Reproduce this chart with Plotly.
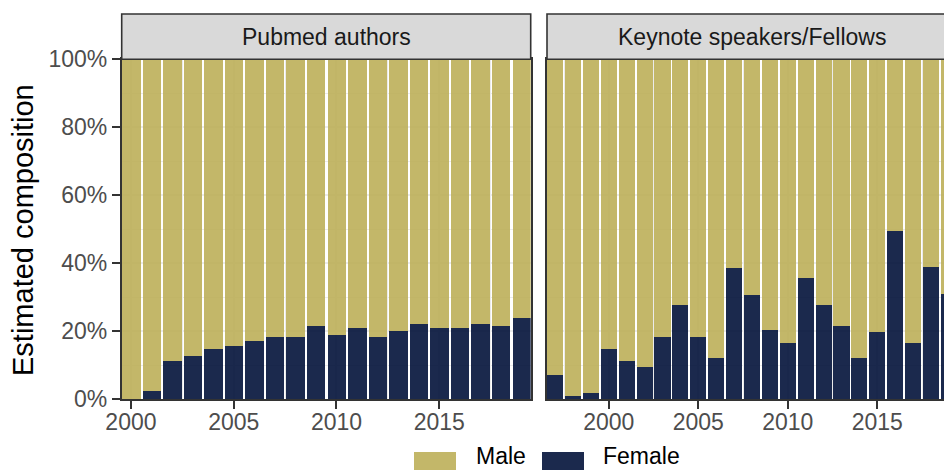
import plotly.graph_objects as go

# ---- data ----
years_pubmed = list(range(2000, 2020))
female_pubmed = [0.000, 0.024, 0.110, 0.127, 0.147, 0.155, 0.169, 0.183, 0.181, 0.213,
                 0.188, 0.209, 0.183, 0.198, 0.219, 0.209, 0.209, 0.219, 0.215, 0.239]
male_pubmed = [1 - v for v in female_pubmed]

years_keynote = list(range(1997, 2020))
female_keynote = [0.069, 0.009, 0.017, 0.147, 0.110, 0.092, 0.183, 0.277, 0.181, 0.119,
                  0.386, 0.304, 0.202, 0.165, 0.354, 0.275, 0.215, 0.119, 0.197, 0.494,
                  0.165, 0.388, 0.308]
male_keynote = [1 - v for v in female_keynote]

panel_titles = ["Pubmed authors", "Keynote speakers/Fellows"]
series_names = ["Male", "Female"]
x_tickvals = [2000, 2005, 2010, 2015]
y_tickvals = [0, 0.2, 0.4, 0.6, 0.8, 1.0]
y_ticktext = ["0%", "20%", "40%", "60%", "80%", "100%"]
y_title = "Estimated composition"

# ---- style ----
W, H = 944, 470
MALE = "rgba(189,175,89,0.9)"
FEMALE = "rgba(2,18,58,0.9)"
FONT = "Liberation Sans, Arial, Helvetica, sans-serif"
TICK_COLOR = "#4D4D4D"
BORDER = "#333333"
GRID = "#EBEBEB"

def px_x(p):
    return p / W

def px_y(p):
    return (H - p) / H

left_dom = [px_x(121.7), px_x(530.7)]
right_dom = [px_x(547.0), 1.0]
y_dom = [px_y(399.0), px_y(59.3)]

fig = go.Figure()

fig.add_trace(go.Bar(x=years_pubmed, y=female_pubmed, name="Female", marker_color=FEMALE,
                     marker_line_width=0, width=0.9, xaxis="x", yaxis="y", showlegend=False))
fig.add_trace(go.Bar(x=years_pubmed, y=male_pubmed, name="Male", marker_color=MALE,
                     marker_line_width=0, width=0.9, xaxis="x", yaxis="y", showlegend=False))
fig.add_trace(go.Bar(x=years_keynote, y=female_keynote, name="Female", marker_color=FEMALE,
                     marker_line_width=0, width=0.9, xaxis="x2", yaxis="y2", showlegend=False))
fig.add_trace(go.Bar(x=years_keynote, y=male_keynote, name="Male", marker_color=MALE,
                     marker_line_width=0, width=0.9, xaxis="x2", yaxis="y2", showlegend=False))

xcommon = dict(
    tickvals=x_tickvals, ticks="outside", ticklen=8, tickwidth=2, tickcolor=BORDER,
    tickfont=dict(family=FONT, size=23, color=TICK_COLOR), ticklabelstandoff=-6,
    showline=True, linecolor=BORDER, linewidth=1.6, mirror=True,
    showgrid=True, gridcolor=GRID, gridwidth=1.5,
    minor=dict(dtick=2.5, tick0=2002.5, showgrid=True, gridcolor=GRID, gridwidth=0.8, ticks=""),
    zeroline=False, automargin=False,
)
ycommon = dict(
    range=[0, 1], showline=True, linecolor=BORDER, linewidth=1.6, mirror=True,
    showgrid=True, gridcolor=GRID, gridwidth=1.5,
    minor=dict(dtick=0.1, showgrid=True, gridcolor=GRID, gridwidth=0.8, ticks=""),
    zeroline=False, automargin=False, domain=y_dom,
)

fig.update_layout(
    width=W, height=H,
    margin=dict(l=0, r=0, t=0, b=0, autoexpand=False),
    paper_bgcolor="white", plot_bgcolor="white",
    barmode="stack", bargap=0,
    showlegend=False,
    xaxis=dict(domain=left_dom, range=[1999.55, 2019.45], **xcommon),
    xaxis2=dict(domain=right_dom, range=[1996.55, 1996.55 + (944 - 547) / 17.9], **xcommon),
    yaxis=dict(anchor="x", tickvals=y_tickvals, ticktext=y_ticktext, ticks="outside",
               ticklen=8, tickwidth=2, tickcolor=BORDER,
               tickfont=dict(family=FONT, size=23, color=TICK_COLOR), **ycommon),
    yaxis2=dict(anchor="x2", tickvals=y_tickvals, showticklabels=False, ticks="", **ycommon),
)

# facet strips
strip_top = px_y(14)
shapes = []
for dom in (left_dom, [right_dom[0], px_x(957)]):
    shapes.append(dict(type="rect", xref="paper", yref="paper", x0=dom[0], x1=dom[1],
                       y0=y_dom[1], y1=strip_top, fillcolor="#D9D9D9",
                       line=dict(color=BORDER, width=1.6), layer="above"))

annotations = []
strip_centers = [(121.7 + 530.7) / 2, (547 + 957) / 2]
for title, cx in zip(panel_titles, strip_centers):
    annotations.append(dict(text=title, xref="paper", yref="paper", x=px_x(cx), y=px_y(37),
                            xanchor="center", yanchor="middle", showarrow=False,
                            font=dict(family=FONT, size=23, color="#1A1A1A")))

annotations.append(dict(text=y_title, xref="paper", yref="paper", x=px_x(23), y=px_y(230),
                        xanchor="center", yanchor="middle", textangle=-90, showarrow=False,
                        font=dict(family=FONT, size=29, color="black")))

# legend (bottom)
legend_items = [(series_names[0], MALE, 414, 474), (series_names[1], FEMALE, 542, 601)]
for name, col, sx, tx in legend_items:
    shapes.append(dict(type="rect", xref="paper", yref="paper", x0=px_x(sx), x1=px_x(sx + 42),
                       y0=px_y(474), y1=px_y(452), fillcolor=col, line=dict(width=0)))
    annotations.append(dict(text=name, xref="paper", yref="paper", x=px_x(tx), y=px_y(456),
                            xanchor="left", yanchor="middle", showarrow=False,
                            font=dict(family=FONT, size=23, color="black")))

fig.update_layout(shapes=shapes, annotations=annotations)

fig.write_html("out.html", config={"displayModeBar": False},
               post_script="document.body.style.margin='0';document.body.style.padding='0';")
